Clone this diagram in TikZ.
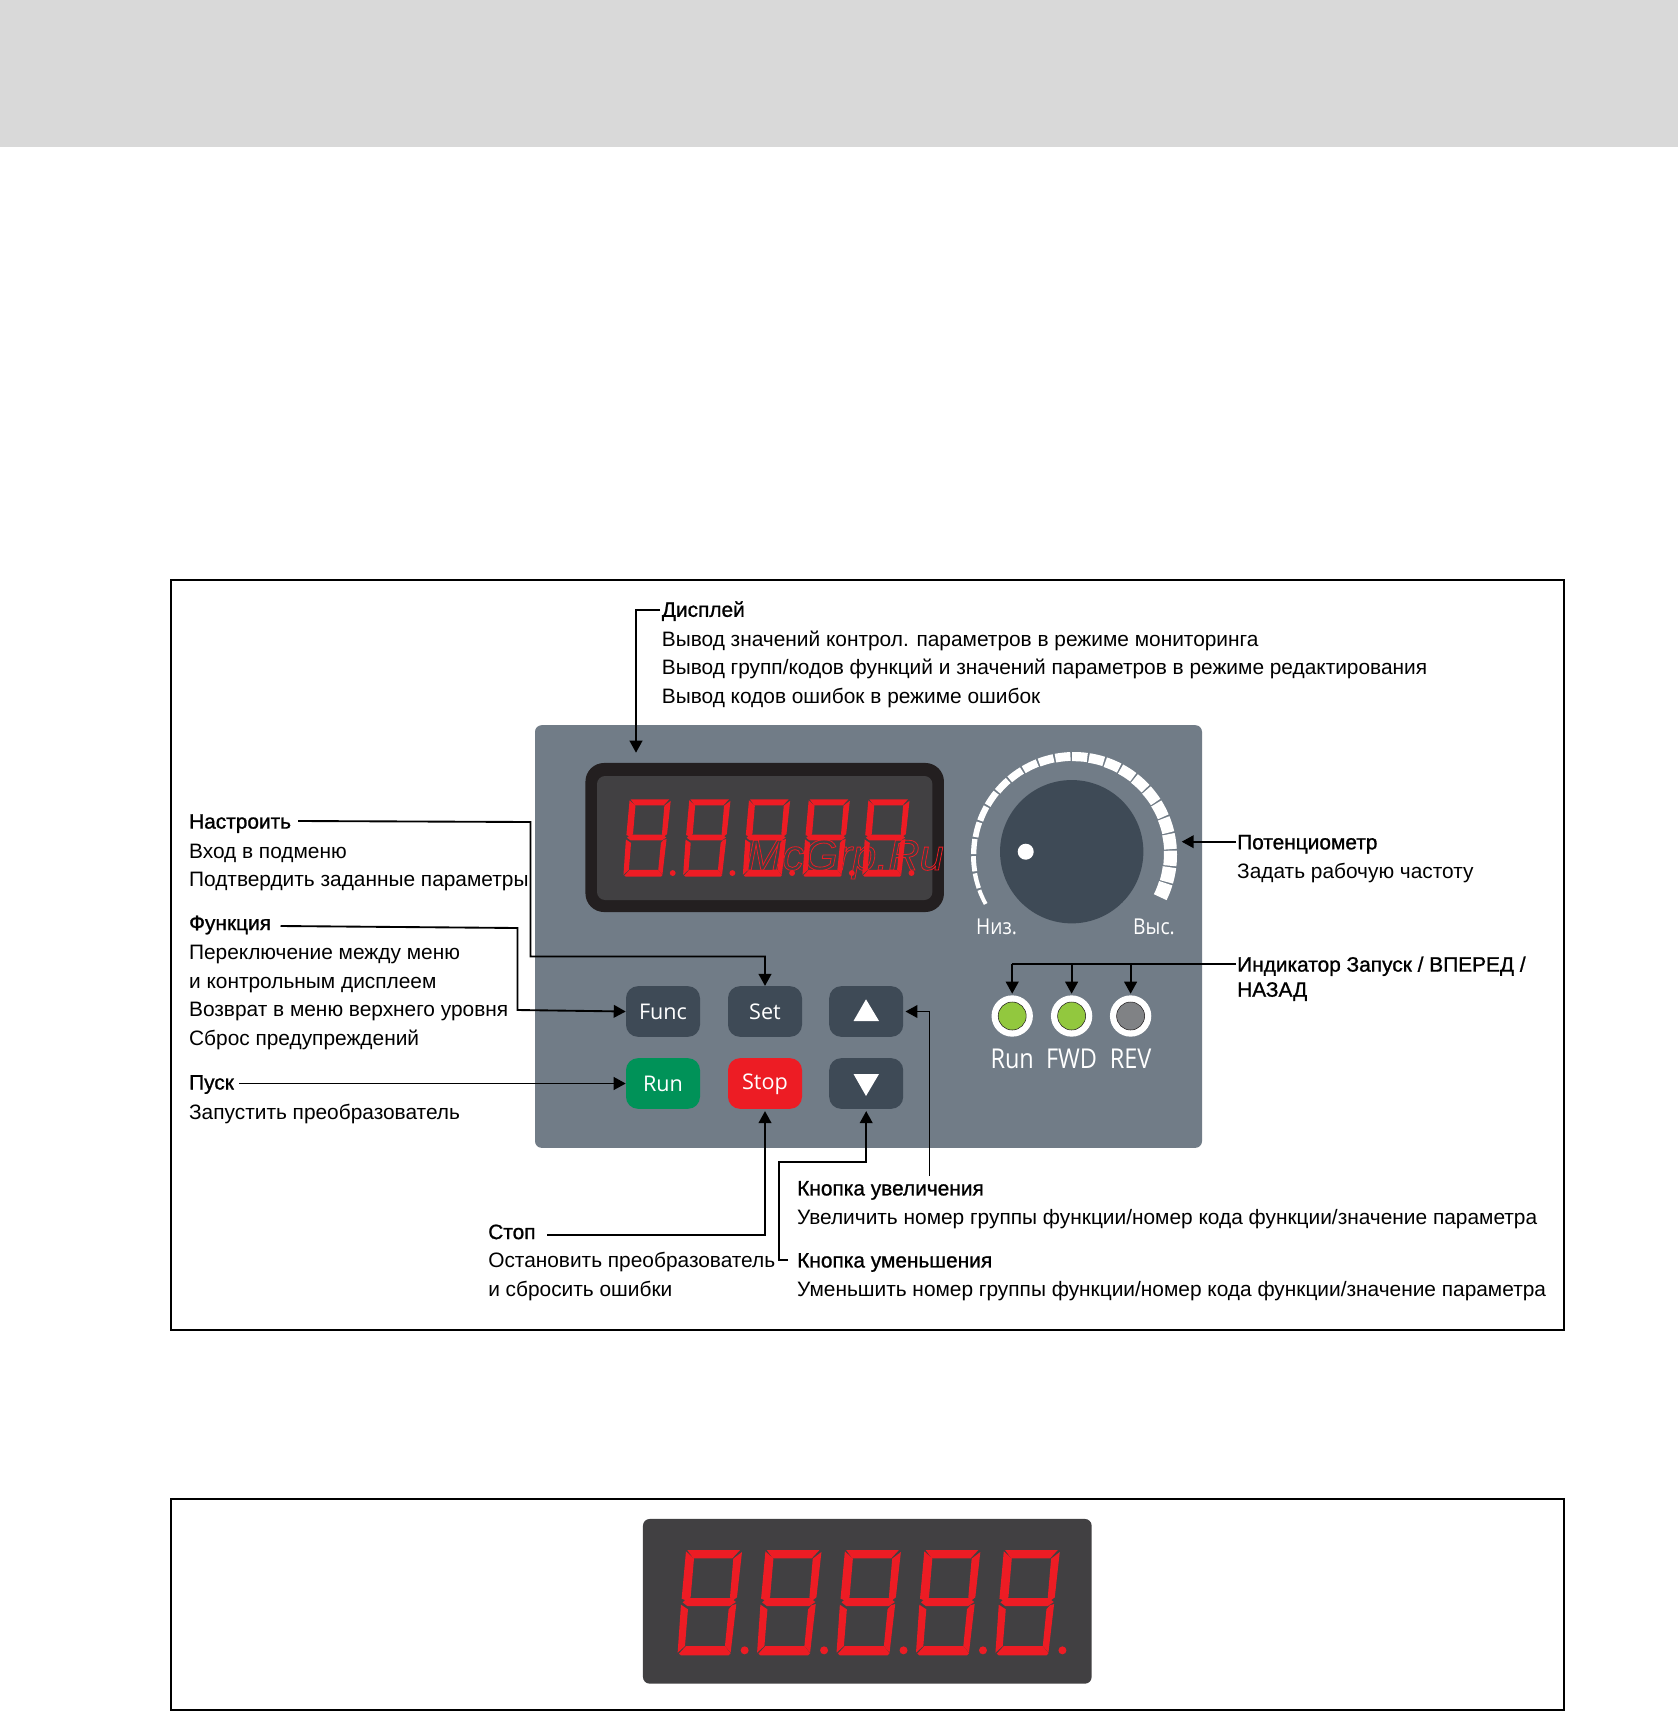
\documentclass[tikz,border=0pt]{standalone}
\usepackage{fontspec}
\setmainfont{Liberation Sans}
\newfontfamily\panelfont{Open Sans}
\newfontfamily\heavyfont[FakeBold=1]{Liberation Sans}
\usetikzlibrary{arrows.meta}
\definecolor{panelgray}{RGB}{113,124,135}
\definecolor{keydark}{RGB}{62,74,86}
\definecolor{bezel}{RGB}{35,31,32}
\definecolor{screen}{RGB}{65,64,66}
\definecolor{segred}{RGB}{237,28,36}
\definecolor{keygreen}{RGB}{0,146,88}
\definecolor{ledgreen}{RGB}{146,200,62}
\definecolor{ledgray}{RGB}{128,130,133}
\tikzset{
 frame/.style={draw=black,line width=1.5pt},
 keybtn/.style={fill=keydark,rounded corners=9pt,minimum width=55.5pt,minimum height=38pt,inner sep=0pt},
 ledring/.style={circle,fill=white,minimum size=31pt,inner sep=0pt},
 ledcore/.style={circle,draw=bezel,line width=.4pt,minimum size=21pt,inner sep=0pt},
 ledlabel/.style={text=white,inner sep=0pt,anchor=base},
 txt/.style={anchor=base west,inner sep=0pt,font=\fontsize{15.65}{18}\selectfont},
 ttl/.style={anchor=base west,inner sep=0pt,font=\heavyfont\fontsize{15.65}{18}\selectfont},
 conn/.style={draw=black,line width=1.4pt},
 arr/.style={conn,-{Triangle[length=9pt,width=9.5pt]}}
}
\newcommand\sevenseg[4]{%
 \foreach \i in {0,...,4}{%
 \begin{scope}[shift={({#1+\i*#4},#2)},scale=#3,shift={(-142,-120)}]
  \fill[segred] (172,120)--(330,120)--(307,145)--(190,145)--cycle;
  \fill[segred] (336,126)--(310,146)--(300,262)--(308,272)--(321,262)--cycle;
  \fill[segred] (168,124)--(192,146)--(182,262)--(170,272)--(155,266)--cycle;
  \fill[segred] (158,277)--(172,264)--(302,264)--(318,276)--(300,288)--(172,288)--cycle;
  \fill[segred] (153,284)--(174,298)--(165,408)--(143,428)--cycle;
  \fill[segred] (319,282)--(302,428)--(285,408)--(296,298)--(306,286)--cycle;
  \fill[segred] (147,431)--(168,408)--(285,408)--(302,430)--(296,436)--(153,436)--cycle;
  \fill[segred] (344,421) circle (12);
 \end{scope}}%
}
\newcommand\lbl[5]{\node[#1] (#2) at ({#3*1.0917},{#4*1.0917}) {#5};}
\begin{document}
\begin{tikzpicture}[x=0.75pt,y=-0.75pt]
\useasboundingbox (0,0) rectangle (1678,1712);
\fill[white] (0,0) rectangle (1678,1712);
\fill[black!15] (0,0) rectangle (1678,147);
\draw[frame] (170.5,580) rectangle (1564,1330);
\draw[frame] (170.5,1499) rectangle (1564,1710);
% lower display
\node[fill=screen,rounded corners=5pt,minimum width=336.5pt,minimum height=123.5pt,inner sep=0pt] (lowerbox) at (867.3,1601.3) {};
\sevenseg{677.3}{1550}{0.3333}{79.45}
% panel
\node[fill=panelgray,rounded corners=5pt,minimum width=500.25pt,minimum height=317pt,inner sep=0pt] (panel) at (868.5,936.5) {};
\node[fill=bezel,rounded corners=14pt,minimum width=268.9pt,minimum height=111.8pt,inner sep=0pt] (bezelbox) at (764.7,837.5) {};
\node[fill=screen,rounded corners=6pt,minimum width=251.5pt,minimum height=93pt,inner sep=0pt] (screenbox) at (764.7,838) {};
\sevenseg{623.2}{799.3}{0.245}{59.7}
\begin{scope}
\special{pdf:code 1 Tr 0.6 w}
\node[text=segred,inner sep=0pt,anchor=base west,font=\itshape\fontsize{32.5}{36}\selectfont] (mark) at (746,870) {McGrp.Ru};
\end{scope}
% knob
\node[circle,fill=keydark,minimum size=107.5pt,inner sep=0pt] (knob) at (1071.7,851.7) {};
\node[circle,fill=white,minimum size=12pt,inner sep=0pt] (knobdot) at (1025.7,851.7) {};
\begin{scope}[shift={(1074,855)}]
\foreach \k in {0,...,23}{
 \pgfmathsetmacro\aa{209-\k*9.83}
 \pgfmathsetmacro\gp{1.2-\k*0.015}
 \pgfmathsetmacro\bb{\aa-9.83+\gp}
 \pgfmathsetmacro\wd{4+10*\k/23}
 \pgfmathsetmacro\rr{103-\wd/2}
 \draw[white,line width=\wd*0.75pt] ({-\aa}:\rr) arc[start angle={-\aa},end angle={-\bb},radius=\rr];
}
\end{scope}
\node[ledlabel] (low) at (996.5,934) {\panelfont\fontsize{16.4}{18}\selectfont\scalebox{0.88}[1]{Низ.}};
\node[ledlabel] (high) at (1154,934) {\panelfont\fontsize{16.4}{18}\selectfont\scalebox{0.88}[1]{Выс.}};
% keys
\node[keybtn] (func) at (663,1011.5) {};
\node[keybtn] (set) at (765,1011.5) {};
\node[keybtn] (up) at (866.2,1011.5) {};
\node[keybtn,fill=keygreen] (run) at (663,1083.5) {};
\node[keybtn,fill=segred] (stop) at (765,1083.5) {};
\node[keybtn] (down) at (866.2,1083.5) {};
\node[ledlabel,font=\panelfont\fontsize{16.2}{18}\selectfont] (funct) at (663,1019) {Func};
\node[ledlabel,font=\panelfont\fontsize{16.2}{18}\selectfont] (sett) at (765,1019) {Set};
\node[ledlabel,font=\panelfont\fontsize{16.2}{18}\selectfont] (runt) at (663,1091) {Run};
\node[ledlabel,font=\panelfont\fontsize{16.2}{18}\selectfont] (stopt) at (765,1089.5) {Stop};
\fill[white] (866,999.3)--(879,1021)--(853.5,1021)--cycle;
\fill[white] (866,1096)--(879,1074)--(853.5,1074)--cycle;
% leds
\node[ledring] (led1) at (1012.2,1016) {};
\node[ledring] (led2) at (1071.6,1016) {};
\node[ledring] (led3) at (1130.6,1016) {};
\node[ledcore,fill=ledgreen] (core1) at (led1) {};
\node[ledcore,fill=ledgreen] (core2) at (led2) {};
\node[ledcore,fill=ledgray] (core3) at (led3) {};
\node[ledlabel] (l1) at (1012.2,1068) {\panelfont\fontsize{20.5}{22}\selectfont\scalebox{0.86}[1]{Run}};
\node[ledlabel] (l2) at (1071.6,1068) {\panelfont\fontsize{20.5}{22}\selectfont\scalebox{0.86}[1]{FWD}};
\node[ledlabel] (l3) at (1130.6,1068) {\panelfont\fontsize{20.5}{22}\selectfont\scalebox{0.86}[1]{REV}};
% texts
\lbl{ttl}{t1}{606}{565}{Дисплей}
\lbl{txt}{t1a}{606}{592}{Вывод значений контрол. параметров в режиме мониторинга}
\lbl{txt}{t1b}{606}{618}{Вывод групп/кодов функций и значений параметров в режиме редактирования}
\lbl{txt}{t1c}{606}{644}{Вывод кодов ошибок в режиме ошибок}
\lbl{ttl}{t2}{173}{759}{Настроить}
\lbl{txt}{t2a}{173}{786}{Вход в подменю}
\lbl{txt}{t2b}{173}{812}{Подтвердить заданные параметры}
\lbl{ttl}{t3}{173}{852}{Функция}
\lbl{txt}{t3a}{173}{879}{Переключение между меню}
\lbl{txt}{t3b}{173}{905}{и контрольным дисплеем}
\lbl{txt}{t3c}{173}{931}{Возврат в меню верхнего уровня}
\lbl{txt}{t3d}{173}{958}{Сброс предупреждений}
\lbl{ttl}{t4}{173}{998}{Пуск}
\lbl{txt}{t4a}{173}{1025}{Запустить преобразователь}
\lbl{ttl}{t5}{447}{1135}{Стоп}
\lbl{txt}{t5a}{447}{1161}{Остановить преобразователь}
\lbl{txt}{t5b}{447}{1188}{и сбросить ошибки}
\lbl{ttl}{t6}{730}{1095}{Кнопка увеличения}
\lbl{txt}{t6a}{730}{1122}{Увеличить номер группы функции/номер кода функции/значение параметра}
\lbl{ttl}{t7}{730}{1161}{Кнопка уменьшения}
\lbl{txt}{t7a}{730}{1188}{Уменьшить номер группы функции/номер кода функции/значение параметра}
\lbl{ttl}{t8}{1133}{778}{Потенциометр}
\lbl{txt}{t8a}{1133}{805}{Задать рабочую частоту}
\lbl{ttl}{t9}{1133}{890}{Индикатор Запуск / ВПЕРЕД /}
\lbl{ttl}{t9a}{1133}{913}{НАЗАД}
% connector ends
\coordinate (dispS) at (660,610.3);
\coordinate (dispE) at (636,752.7);
\coordinate (setS) at (298,821);
\coordinate (funcS) at (280.5,926);
\coordinate (runS) at (239,1083.5);
\coordinate (stopS) at (547,1234.7);
\coordinate (downS) at (788,1260);
\coordinate (upS) at (929.5,1176);
\coordinate (potS) at (1236,841.7);
\coordinate (potE) at (1181.7,841.7);
\coordinate (ledS) at (1236,964.3);
% connectors
\draw[arr] (dispS) -- (636,610.3) -- (dispE);
\draw[arr] (setS) -- (530.5,822) -- (530.5,956.5) -- (765,956.5) -- (set.north);
\draw[arr] (funcS) -- (517.5,928) -- (517.5,1010) -- (func.west);
\draw[arr] (runS) -- (run.west);
\draw[arr,shorten >=1.5pt] (stopS) -- (765,1234.7) -- (stop.south);
\draw[arr,shorten >=1.5pt] (downS) -- (779,1260) -- (779,1162) -- (866.2,1162) -- (down.south);
\draw[arr,shorten >=1.5pt] (upS) -- (929.5,1011.5) -- (up.east);
\draw[arr] (potS) -- (potE);
\draw[conn] (ledS) -- (1012.2,964.3);
\draw[arr,shorten >=1pt] (1012.2,964.3) -- (led1.north);
\draw[arr,shorten >=1pt] (1071.6,964.3) -- (led2.north);
\draw[arr,shorten >=1pt] (1130.6,964.3) -- (led3.north);
\end{tikzpicture}
\end{document}
